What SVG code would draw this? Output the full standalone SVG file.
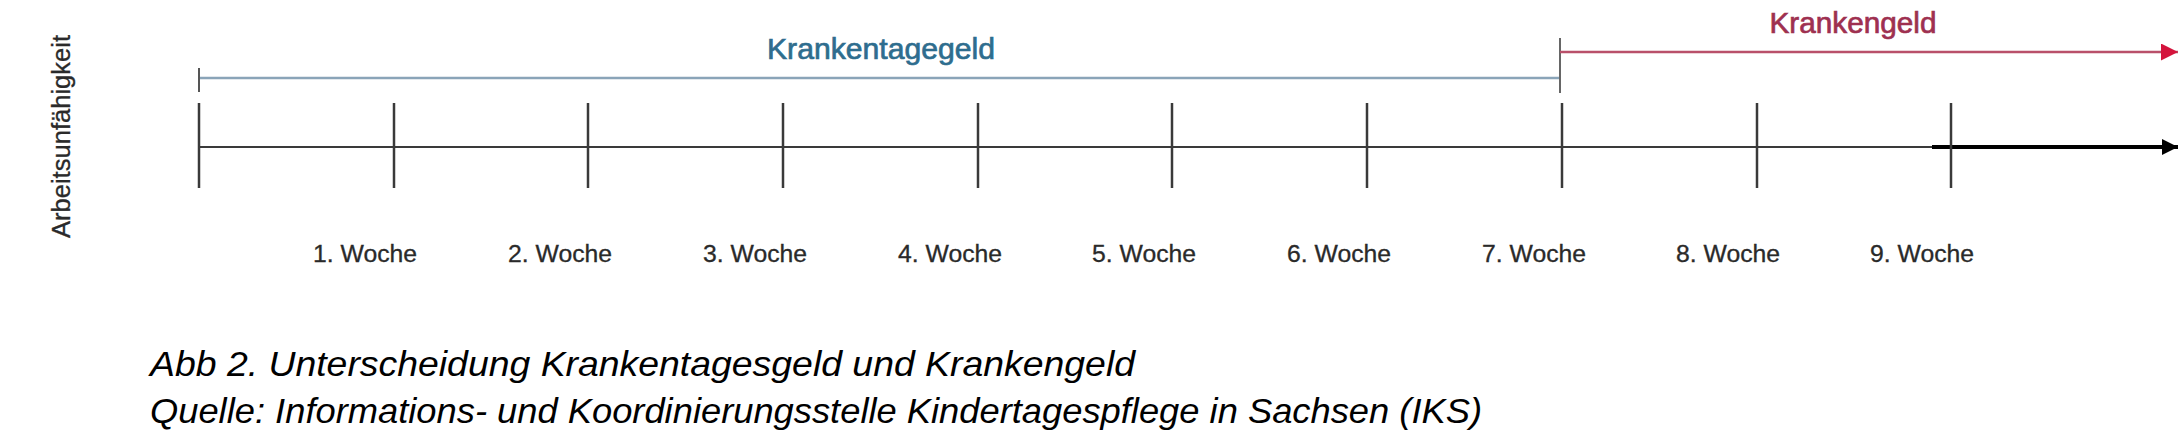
<svg xmlns="http://www.w3.org/2000/svg" width="2181" height="439" viewBox="0 0 2181 439">
  <style>
    .tick { stroke: #3a3a3a; stroke-width: 2.5; }
    .axis { stroke: #3a3a3a; stroke-width: 2; fill: none; }
    .week { font-family: "Liberation Sans", Arial, sans-serif; font-size: 23px; fill: #2a2a2a; stroke: #2a2a2a; stroke-width: 0.3; text-anchor: middle; }
    .span { font-family: "Liberation Sans", Arial, sans-serif; font-size: 30px; text-anchor: middle; stroke-width: 0.7; }
    .caption { font-family: "Liberation Sans", Arial, sans-serif; font-style: italic; font-size: 35px; fill: #000; }
  </style>
  <defs>
    <marker id="arrBlack" viewBox="0 0 10 10" refX="10" refY="5" markerWidth="16" markerHeight="16" markerUnits="userSpaceOnUse" orient="auto">
      <path d="M0,0 L10,5 L0,10 Z" fill="#000"/>
    </marker>
    <marker id="arrRed" viewBox="0 0 10 10" refX="10" refY="5" markerWidth="17" markerHeight="17" markerUnits="userSpaceOnUse" orient="auto">
      <path d="M0,0 L10,5 L0,10 Z" fill="#d4143c"/>
    </marker>
  </defs>
  <rect width="2181" height="439" fill="#ffffff"/>

  <g id="ylabel">
    <text transform="translate(70,136.5) rotate(-90)" font-family="'Liberation Sans', Arial, sans-serif" font-size="25" fill="#2a2a2a" stroke="#2a2a2a" stroke-width="0.3" text-anchor="middle" textLength="203" lengthAdjust="spacingAndGlyphs">Arbeitsunfähigkeit</text>
  </g>

  <g id="connectors">
    <!-- Krankentagegeld span -->
    <line x1="199" y1="78" x2="1560" y2="78" stroke="#8aa4b8" stroke-width="2.5"/>
    <line x1="199" y1="68" x2="199" y2="92" stroke="#555" stroke-width="2"/>
    <line x1="1560" y1="38" x2="1560" y2="93" stroke="#666" stroke-width="2"/>
    <!-- Krankengeld span -->
    <line x1="1560" y1="52" x2="2178" y2="52" stroke="#b9506a" stroke-width="2.5" marker-end="url(#arrRed)"/>
    <!-- Time axis -->
    <line class="axis" x1="199" y1="147" x2="1932" y2="147"/>
    <line x1="1932" y1="147" x2="2178" y2="147" stroke="#000" stroke-width="4" marker-end="url(#arrBlack)"/>
    <!-- Ticks -->
    <line class="tick" x1="199" y1="103" x2="199" y2="188"/>
    <line class="tick" x1="394" y1="103" x2="394" y2="188"/>
    <line class="tick" x1="588" y1="103" x2="588" y2="188"/>
    <line class="tick" x1="783" y1="103" x2="783" y2="188"/>
    <line class="tick" x1="978" y1="103" x2="978" y2="188"/>
    <line class="tick" x1="1172" y1="103" x2="1172" y2="188"/>
    <line class="tick" x1="1367" y1="103" x2="1367" y2="188"/>
    <line class="tick" x1="1562" y1="103" x2="1562" y2="188"/>
    <line class="tick" x1="1757" y1="103" x2="1757" y2="188"/>
    <line class="tick" x1="1951" y1="103" x2="1951" y2="188"/>
  </g>

  <g id="krankentagegeld">
    <text class="span" x="881" y="59" fill="#2e6d8e" stroke="#2e6d8e" textLength="228" lengthAdjust="spacingAndGlyphs">Krankentagegeld</text>
  </g>
  <g id="krankengeld">
    <text class="span" x="1853" y="33" fill="#9e3050" stroke="#9e3050" textLength="167" lengthAdjust="spacingAndGlyphs">Krankengeld</text>
  </g>

  <g id="weeks">
    <text class="week" x="365" y="262" textLength="104" lengthAdjust="spacingAndGlyphs">1. Woche</text>
    <text class="week" x="560" y="262" textLength="104" lengthAdjust="spacingAndGlyphs">2. Woche</text>
    <text class="week" x="755" y="262" textLength="104" lengthAdjust="spacingAndGlyphs">3. Woche</text>
    <text class="week" x="950" y="262" textLength="104" lengthAdjust="spacingAndGlyphs">4. Woche</text>
    <text class="week" x="1144" y="262" textLength="104" lengthAdjust="spacingAndGlyphs">5. Woche</text>
    <text class="week" x="1339" y="262" textLength="104" lengthAdjust="spacingAndGlyphs">6. Woche</text>
    <text class="week" x="1534" y="262" textLength="104" lengthAdjust="spacingAndGlyphs">7. Woche</text>
    <text class="week" x="1728" y="262" textLength="104" lengthAdjust="spacingAndGlyphs">8. Woche</text>
    <text class="week" x="1922" y="262" textLength="104" lengthAdjust="spacingAndGlyphs">9. Woche</text>
  </g>

  <g id="caption">
    <text class="caption" x="150" y="376" textLength="985" lengthAdjust="spacingAndGlyphs">Abb 2. Unterscheidung Krankentagesgeld und Krankengeld</text>
    <text class="caption" x="150" y="423" textLength="1332" lengthAdjust="spacingAndGlyphs">Quelle: Informations- und Koordinierungsstelle Kindertagespflege in Sachsen (IKS)</text>
  </g>
</svg>
